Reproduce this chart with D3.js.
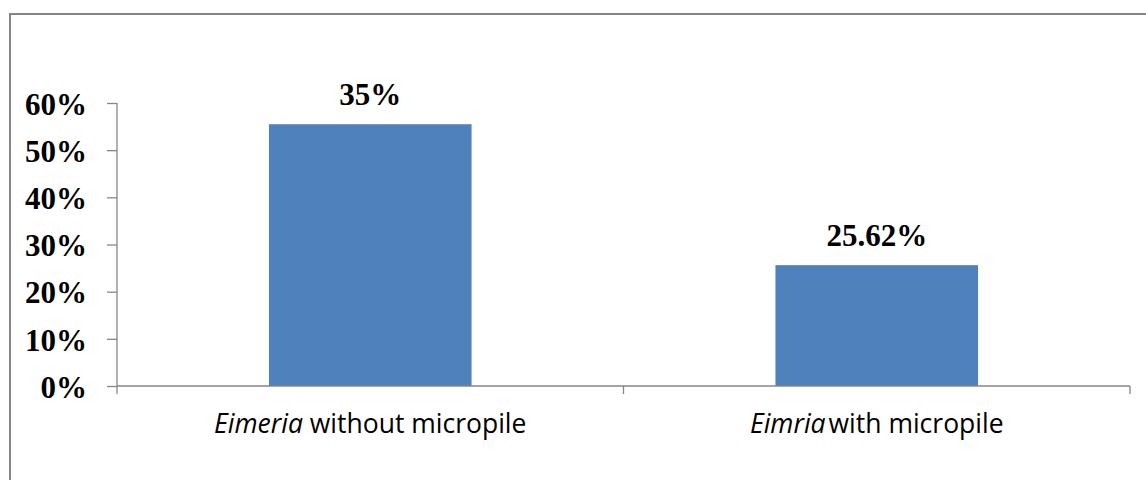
<!DOCTYPE html>
<html>
<head>
<meta charset="utf-8">
<script src="https://cdn.jsdelivr.net/npm/d3@7"></script>
<style>
  body { margin: 0; background: #fff; }
  .ytick text { font-family: "Liberation Serif", "Times New Roman", serif; font-weight: bold; font-size: 31px; fill: #000; }
  .lbl { font-family: "Liberation Serif", "Times New Roman", serif; font-weight: bold; font-size: 31px; fill: #000; }
  .cat { font-family: "Open Sans", sans-serif; font-size: 26.5px; fill: #000; }
</style>
</head>
<body>
<div id="chart"></div>
<script>
// values
var categories = ["Eimeria without micropile", "Eimria with micropile"];
var catItalic = ["Eimeria", "Eimria"];
var catRest = [" without micropile", "with micropile"];
var values = [55.5, 25.62];
var valueLabels = ["35%", "25.62%"];
var yTicks = [0, 10, 20, 30, 40, 50, 60];

var width = 1146, height = 480;
var margin = {top: 103, right: 16, bottom: 94, left: 117};

var svg = d3.select("#chart")
    .append("svg")
    .attr("width", width)
    .attr("height", height);

// outer frame
svg.append("rect")
    .attr("x", 10).attr("y", 14)
    .attr("width", 1150).attr("height", 480)
    .attr("fill", "none")
    .attr("stroke", "#868686")
    .attr("stroke-width", 2);

var x = d3.scaleBand()
    .domain(categories)
    .range([margin.left, width - margin.right])
    .paddingInner(0.6)
    .paddingOuter(0.3);

var y = d3.scaleLinear()
    .domain([0, 60])
    .range([height - margin.bottom, margin.top]);

// y axis
var yAxis = svg.append("g")
    .attr("class", "ytick")
    .attr("transform", "translate(" + margin.left + ",0)")
    .call(d3.axisLeft(y).tickValues(yTicks).tickSize(10).tickPadding(20)
        .tickFormat(function(d) { return d + "%"; }));
yAxis.selectAll("path, line").attr("stroke", "#868686").attr("stroke-width", 1.3);
yAxis.select(".domain").attr("d", "M0," + y(60) + "V" + y(0));
yAxis.selectAll("text").attr("dy", "0.36em");

// bars
svg.selectAll(".bar")
    .data(values)
  .enter().append("rect")
    .attr("class", "bar")
    .attr("x", function(d, i) { return x(categories[i]); })
    .attr("y", function(d) { return y(d); })
    .attr("width", x.bandwidth())
    .attr("height", function(d) { return y(0) - y(d); })
    .attr("fill", "#4f81bd");

// x axis
var step = x.step();
var x0 = margin.left, x1 = width - margin.right;
var gx = svg.append("g").attr("transform", "translate(0," + y(0) + ")");
gx.append("line")
    .attr("x1", x0).attr("x2", x1)
    .attr("stroke", "#868686").attr("stroke-width", 1.3);
var bounds = [0, 1, 2].map(function(i) { return x0 + i * step; });
gx.selectAll(".xt")
    .data(bounds)
  .enter().append("line")
    .attr("x1", function(d) { return d; })
    .attr("x2", function(d) { return d; })
    .attr("y1", 0).attr("y2", 8)
    .attr("stroke", "#868686").attr("stroke-width", 1.3);

// category labels
var cats = svg.selectAll(".cat")
    .data(categories)
  .enter().append("text")
    .attr("class", "cat")
    .attr("x", function(d) { return x(d) + x.bandwidth() / 2; })
    .attr("y", 433)
    .attr("text-anchor", "middle");
cats.append("tspan")
    .attr("font-style", "italic")
    .text(function(d, i) { return catItalic[i]; });
cats.append("tspan")
    .attr("dx", function(d, i) { return i === 1 ? 3 : 0; })
    .text(function(d, i) { return catRest[i]; });

// value labels
svg.selectAll(".lbl")
    .data(values)
  .enter().append("text")
    .attr("class", "lbl")
    .attr("x", function(d, i) { return x(categories[i]) + x.bandwidth() / 2; })
    .attr("y", function(d) { return y(d) - 19; })
    .attr("text-anchor", "middle")
    .text(function(d, i) { return valueLabels[i]; });
</script>
</body>
</html>
